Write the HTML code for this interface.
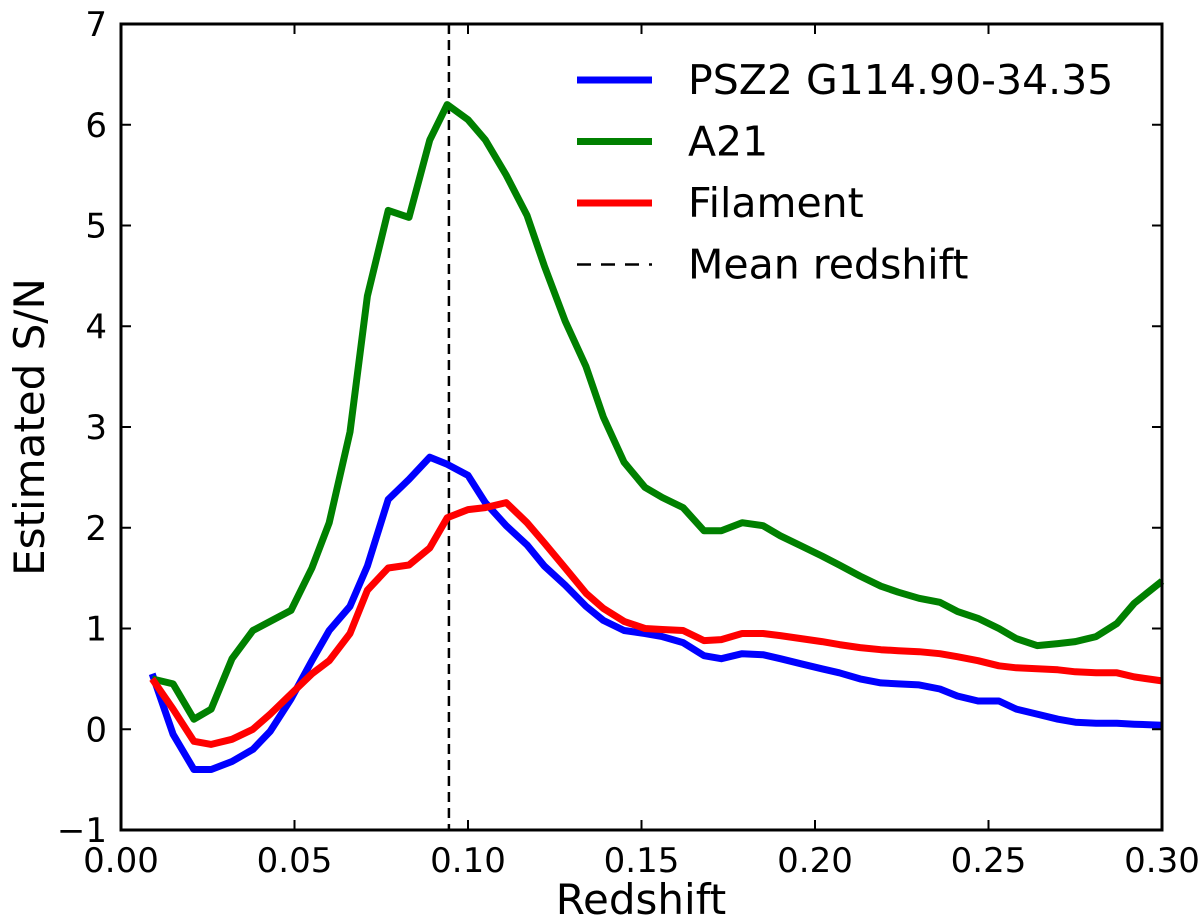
<!DOCTYPE html>
<html><head><meta charset="utf-8"><style>
body{margin:0;background:#fff}
svg text{font-family:"DejaVu Sans","Liberation Sans",sans-serif;fill:#000}
</style></head><body>
<svg id="chart" width="1200" height="919">
<g id="plot"></g>
</svg>
<script>
const xs=[0.009,0.015,0.021,0.026,0.032,0.038,0.043,0.049,0.055,0.06,0.066,0.071,0.077,0.083,0.089,0.094,0.1,0.105,0.111,0.117,0.122,0.128,0.134,0.139,0.145,0.151,0.156,0.162,0.168,0.173,0.179,0.185,0.19,0.196,0.202,0.207,0.213,0.219,0.224,0.23,0.236,0.241,0.247,0.253,0.258,0.264,0.27,0.275,0.281,0.287,0.292,0.3];
const psz2=[0.55,-0.05,-0.4,-0.4,-0.32,-0.2,-0.02,0.3,0.68,0.98,1.22,1.62,2.28,2.48,2.7,2.63,2.52,2.25,2.02,1.83,1.62,1.43,1.22,1.08,0.98,0.95,0.92,0.86,0.73,0.7,0.75,0.74,0.7,0.65,0.6,0.56,0.5,0.46,0.45,0.44,0.4,0.33,0.28,0.28,0.2,0.15,0.1,0.07,0.06,0.06,0.05,0.04];
const a21=[0.5,0.45,0.1,0.2,0.7,0.98,1.07,1.18,1.6,2.05,2.95,4.3,5.15,5.08,5.85,6.2,6.05,5.85,5.5,5.1,4.6,4.05,3.6,3.1,2.65,2.4,2.3,2.2,1.97,1.97,2.05,2.02,1.92,1.82,1.72,1.63,1.52,1.42,1.36,1.3,1.26,1.17,1.1,1.0,0.9,0.83,0.85,0.87,0.92,1.05,1.25,1.47];
const filament=[0.5,0.2,-0.12,-0.15,-0.1,0.0,0.15,0.35,0.55,0.68,0.95,1.38,1.6,1.63,1.8,2.1,2.18,2.2,2.25,2.05,1.85,1.6,1.35,1.2,1.07,1.0,0.99,0.98,0.88,0.89,0.95,0.95,0.93,0.9,0.87,0.84,0.81,0.79,0.78,0.77,0.75,0.72,0.68,0.63,0.61,0.6,0.59,0.57,0.56,0.56,0.52,0.48];
const meanZ=0.0945;
const xTicks=[0,0.05,0.1,0.15,0.2,0.25,0.3];
const xTickLabels=["0.00","0.05","0.10","0.15","0.20","0.25","0.30"];
const yTicks=[-1,0,1,2,3,4,5,6,7];
const yTickLabels=["\u22121","0","1","2","3","4","5","6","7"];
const seriesNames=["PSZ2 G114.90-34.35","A21","Filament","Mean redshift"];

const L=121,R=1162,T=24,B=830;
const X=v=>L+(v-0)/(0.3)*(R-L);
const Y=v=>B-(v+1)/8*(B-T);
const NS="http://www.w3.org/2000/svg";
const g=document.getElementById('plot');
function mk(t,a,p){const e=document.createElementNS(NS,t);for(const k in a)e.setAttribute(k,a[k]);(p||g).appendChild(e);return e;}

function line(vals,color,name){
  const d=xs.map((x,i)=>(i?'L':'M')+X(x).toFixed(1)+' '+Y(vals[i]).toFixed(1)).join(' ');
  const p=mk('path',{d:d,fill:'none',stroke:color,'stroke-width':7,'stroke-linejoin':'round'});
  
  
}
const vl=mk('line',{x1:X(meanZ),x2:X(meanZ),y1:T,y2:B,stroke:'#000','stroke-width':2.5,'stroke-dasharray':'10,6'});


line(psz2,'#0000ff','psz2-line');
line(a21,'#008000','a21-line');
line(filament,'#ff0000','filament-line');

const fr=mk('rect',{x:L,y:T,width:R-L,height:B-T,fill:'none',stroke:'#000','stroke-width':3});



xTicks.forEach((v,i)=>{
  const x=X(v);
  mk('line',{x1:x,x2:x,y1:B,y2:B-10,stroke:'#000','stroke-width':2});
  mk('line',{x1:x,x2:x,y1:T,y2:T+10,stroke:'#000','stroke-width':2});
  const t=mk('text',{x:x,y:B+42,'text-anchor':'middle','font-size':34});
  t.textContent=xTickLabels[i];
  
  
});
yTicks.forEach((v,i)=>{
  const y=Y(v);
  mk('line',{x1:L,x2:L+10,y1:y,y2:y,stroke:'#000','stroke-width':2});
  mk('line',{x1:R,x2:R-10,y1:y,y2:y,stroke:'#000','stroke-width':2});
  const t=mk('text',{x:L-14,y:y+12,'text-anchor':'end','font-size':34});
  t.textContent=yTickLabels[i];
  
  
});
const xt=mk('text',{x:641,y:914,'text-anchor':'middle','font-size':42});
xt.textContent='Redshift';


const yt=mk('text',{x:0,y:0,'text-anchor':'middle','font-size':42,transform:'translate(44,427) rotate(-90)'});
yt.textContent='Estimated S/N';



const colors=['#0000ff','#008000','#ff0000','#000'];
const legendNames=['legend-psz2','legend-a21','legend-filament','legend-mean-redshift'];
seriesNames.forEach((n,i)=>{
  const y=80+i*61.5;
  const lg=mk('g',{});
  
  
  const a={x1:577,x2:652,y1:y,y2:y,stroke:colors[i],'stroke-width':i==3?2.5:7};
  if(i==3)a['stroke-dasharray']='14,10';
  mk('line',a,lg);
  const t=mk('text',{x:688,y:y+14,'font-size':41},lg);
  t.textContent=n;
});
</script>
</body></html>
